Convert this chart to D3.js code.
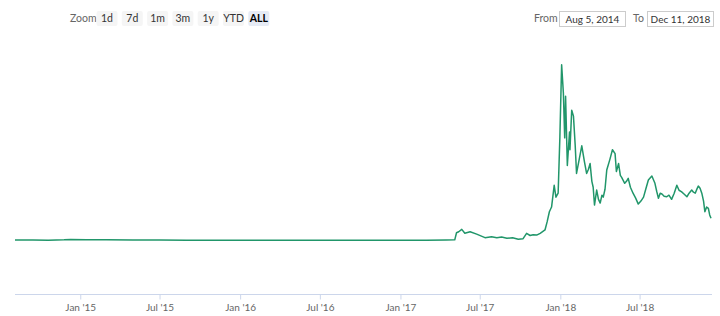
<!DOCTYPE html>
<html>
<head>
<meta charset="utf-8">
<script src="https://cdn.jsdelivr.net/npm/d3@7"></script>
<style>
  body { margin: 0; background: #fff; }
  text { font-family: Lato, sans-serif; }
</style>
</head>
<body>
<div id="chart"></div>
<script>
// price series
const dates = [
  "2014-08-05", "2014-09-15", "2014-10-20", "2014-11-25", "2014-12-10", "2015-01-15",
  "2015-03-01", "2015-05-01", "2015-07-01", "2015-09-01", "2015-11-01", "2016-01-01",
  "2016-03-01", "2016-05-01", "2016-07-01", "2016-09-01", "2016-11-01", "2017-01-01",
  "2017-03-01", "2017-04-15", "2017-05-05", "2017-05-09", "2017-05-14", "2017-05-21",
  "2017-05-28", "2017-06-09", "2017-06-24", "2017-07-13", "2017-07-28", "2017-08-09",
  "2017-08-20", "2017-09-01", "2017-09-14", "2017-09-27", "2017-10-08", "2017-10-16",
  "2017-10-24", "2017-10-31", "2017-11-08", "2017-11-16", "2017-11-27",
  "2017-12-02", "2017-12-07", "2017-12-12", "2017-12-18", "2017-12-22", "2017-12-27",
  "2017-12-31", "2018-01-04", "2018-01-08", "2018-01-11", "2018-01-13", "2018-01-17",
  "2018-01-22", "2018-01-23", "2018-01-27", "2018-01-31", "2018-02-04", "2018-02-07",
  "2018-02-13", "2018-02-19", "2018-02-25", "2018-03-02", "2018-03-06", "2018-03-10",
  "2018-03-14", "2018-03-17", "2018-03-20", "2018-03-25", "2018-03-29", "2018-04-02",
  "2018-04-06", "2018-04-09", "2018-04-13", "2018-04-17", "2018-04-24", "2018-04-30",
  "2018-05-06", "2018-05-09", "2018-05-14", "2018-05-18", "2018-05-21", "2018-05-28",
  "2018-06-01", "2018-06-05", "2018-06-10", "2018-06-16", "2018-06-22", "2018-06-28",
  "2018-07-04", "2018-07-10", "2018-07-15", "2018-07-21", "2018-07-29", "2018-08-05",
  "2018-08-09", "2018-08-13", "2018-08-17", "2018-08-21", "2018-08-26", "2018-09-01",
  "2018-09-06", "2018-09-12", "2018-09-18", "2018-09-24", "2018-09-29", "2018-10-05",
  "2018-10-11", "2018-10-17", "2018-10-22", "2018-10-28", "2018-11-01", "2018-11-05",
  "2018-11-09", "2018-11-12", "2018-11-16", "2018-11-20", "2018-11-24", "2018-11-27",
  "2018-12-01", "2018-12-05", "2018-12-08", "2018-12-11"
];
const prices = [
  0.003, 0.003, 0.002, 0.004, 0.006, 0.005,
  0.004, 0.003, 0.003, 0.002, 0.002, 0.002,
  0.002, 0.002, 0.002, 0.002, 0.002, 0.002,
  0.002, 0.003, 0.004, 0.040, 0.045, 0.057,
  0.037, 0.045, 0.033, 0.015, 0.020, 0.015,
  0.018, 0.012, 0.015, 0.007, 0.010, 0.037,
  0.026, 0.030, 0.028, 0.037, 0.054,
  0.096, 0.146, 0.170, 0.280, 0.220, 0.240,
  0.525, 0.890, 0.745, 0.520, 0.730, 0.380,
  0.550, 0.460, 0.660, 0.630, 0.480, 0.340,
  0.410, 0.480, 0.400, 0.340, 0.360, 0.390,
  0.300, 0.270, 0.180, 0.256, 0.210, 0.190,
  0.230, 0.220, 0.260, 0.357, 0.410, 0.460,
  0.440, 0.350, 0.390, 0.330, 0.320, 0.290,
  0.300, 0.315, 0.270, 0.240, 0.215, 0.185,
  0.200, 0.220, 0.260, 0.307, 0.327, 0.290,
  0.250, 0.214, 0.240, 0.236, 0.225, 0.222,
  0.230, 0.209, 0.240, 0.280, 0.255, 0.247,
  0.235, 0.222, 0.240, 0.256, 0.245, 0.240,
  0.262, 0.276, 0.265, 0.240, 0.200, 0.146,
  0.170, 0.163, 0.130, 0.113
];
const zoomButtons = ["1d", "7d", "1m", "3m", "1y", "YTD", "ALL"];
const fromLabel = "Aug 5, 2014";
const toLabel = "Dec 11, 2018";

const width = 720, height = 316;
const parse = d3.timeParse("%Y-%m-%d");
const data = dates.map((d, i) => ({ date: parse(d), value: prices[i] }));

const svg = d3.select('#chart')
              .append('svg')
              .attr('width', width)
              .attr('height', height);

const x = d3.scaleTime()
            .domain([parse("2014-08-05"), parse("2018-12-11")])
            .range([15, 711]);

const y = d3.scaleLinear()
            .domain([-0.27, 1])
            .range([294, 43]);

// range selector
const btnG = svg.append('g');
btnG.append('text')
    .attr('x', 70).attr('y', 21.5)
    .attr('fill', '#666').style('font-size', '10.5px')
    .text('Zoom');

zoomButtons.forEach((b, i) => {
  const bx = 96.5 + i * 25.3;
  const g = btnG.append('g').attr('transform', `translate(${bx},11)`);
  const active = b === 'ALL';
  g.append('rect')
   .attr('width', 21).attr('height', 15)
   .attr('rx', 2)
   .attr('fill', active ? '#e6ebf5' : '#f5f5f5');
  g.append('text')
   .attr('x', 10.5).attr('y', 11)
   .attr('text-anchor', 'middle')
   .attr('fill', active ? '#000' : '#333')
   .style('font-size', '10.5px')
   .style('font-weight', active ? 'bold' : 'normal')
   .text(b);
});

const inputs = [
  { label: 'From', lx: 534, bx: 559, value: fromLabel },
  { label: 'To', lx: 633, bx: 647, value: toLabel }
];
inputs.forEach(inp => {
  svg.append('text')
     .attr('x', inp.lx).attr('y', 22)
     .attr('fill', '#666').style('font-size', '10.5px')
     .text(inp.label);
  svg.append('rect')
     .attr('x', inp.bx + 0.5).attr('y', 11.5)
     .attr('width', 66).attr('height', 15)
     .attr('fill', '#fff').attr('stroke', '#ccc');
  svg.append('text')
     .attr('x', inp.bx + 33.5).attr('y', 22.5)
     .attr('text-anchor', 'middle')
     .attr('fill', '#333').style('font-size', '10px')
     .text(inp.value);
});

// x axis
const xAxis = d3.axisBottom(x)
                .ticks(d3.timeMonth.filter(d => d.getMonth() % 6 === 0))
                .tickFormat(d3.timeFormat("%b '%y"))
                .tickSize(5)
                .tickSizeOuter(0);

const axisG = svg.append('g')
                 .attr('transform', 'translate(0,294.5)')
                 .call(xAxis);
axisG.select('.domain').attr('stroke', '#ccd6eb').attr('d', 'M15,0H712');
axisG.selectAll('.tick line').attr('stroke', '#ccd6eb');
axisG.selectAll('.tick text')
     .attr('fill', '#666')
     .attr('dy', '0.85em')
     .style('font-size', '10px')
     .style('font-family', 'Lato, sans-serif');

// price line
const line = d3.line()
               .x(d => x(d.date))
               .y(d => y(d.value));

svg.append('path')
   .datum(data)
   .attr('d', line)
   .attr('fill', 'none')
   .attr('stroke', '#21966a')
   .attr('stroke-width', 1.5)
   .attr('stroke-linejoin', 'round');
</script>
</body>
</html>
